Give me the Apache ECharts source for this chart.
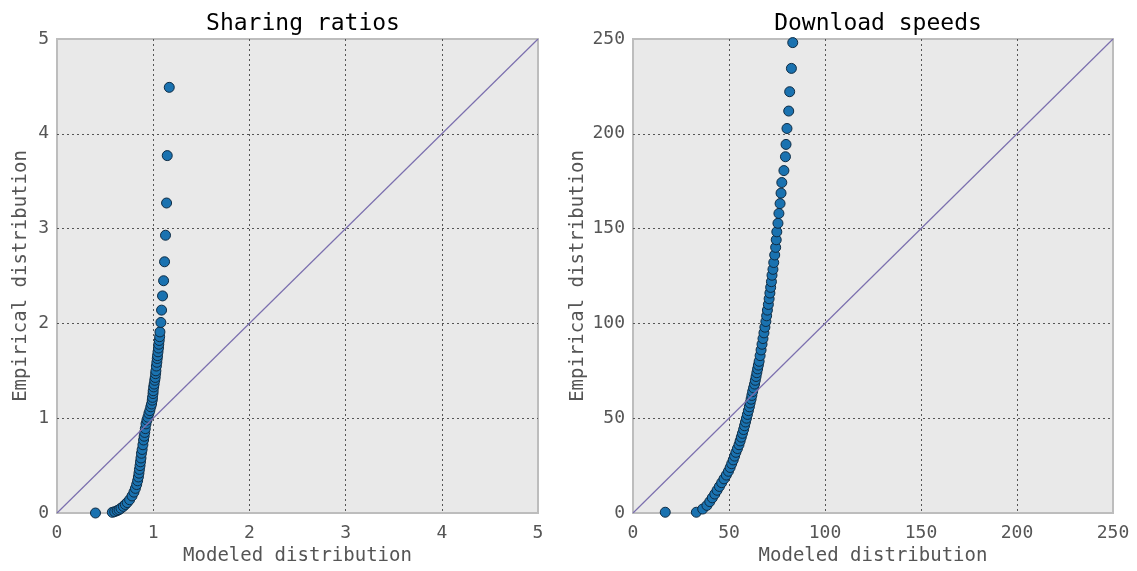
<!DOCTYPE html>
<html>
<head>
<meta charset="utf-8">
<script src="https://cdn.jsdelivr.net/npm/echarts@6/dist/echarts.min.js"></script>
<style>
  html, body { margin: 0; padding: 0; background: #fff; }
  #chart { width: 1137px; height: 571px; }
</style>
</head>
<body>
<div id="chart"></div>
<script>
// ======================================数据======================================
// 左图: Sharing ratios (modeled, empirical)
var sharingModeled = [0.40, 0.575, 0.60, 0.625, 0.645, 0.665, 0.69, 0.71, 0.73, 0.755, 0.78, 0.80, 0.815, 0.828,
    0.838, 0.846, 0.852, 0.857, 0.863, 0.868, 0.873, 0.878, 0.885, 0.893, 0.900, 0.906, 0.912, 0.918, 0.925,
    0.935, 0.945, 0.955, 0.965, 0.975, 0.983, 0.99, 0.993, 0.998, 1.0, 1.005, 1.01, 1.016, 1.021, 1.025, 1.028,
    1.033, 1.038, 1.042, 1.045, 1.05, 1.055, 1.058, 1.0625, 1.067, 1.07, 1.08, 1.087, 1.097, 1.108, 1.118,
    1.128, 1.139, 1.146, 1.167];
var sharingEmpirical = [0.0, 0.007, 0.014, 0.025, 0.035, 0.05, 0.07, 0.09, 0.11, 0.14, 0.18, 0.22, 0.26, 0.30,
    0.34, 0.38, 0.42, 0.46, 0.50, 0.54, 0.58, 0.63, 0.67, 0.72, 0.77, 0.81, 0.85, 0.89, 0.94,
    0.98, 1.01, 1.05, 1.08, 1.12, 1.15, 1.19, 1.22, 1.26, 1.29, 1.33, 1.36, 1.40, 1.43, 1.47, 1.50,
    1.55, 1.59, 1.63, 1.66, 1.70, 1.74, 1.78, 1.82, 1.86, 1.91, 2.01, 2.14, 2.29, 2.45, 2.65,
    2.93, 3.27, 3.77, 4.49];

// 右图: Download speeds (modeled, empirical)
var speedModeled = [16.8, 33.0, 36.3, 38.5, 40.0, 41.3, 42.6, 43.8, 45.0, 46.2, 47.4, 48.6, 49.7, 50.6, 51.4,
    52.2, 52.9, 53.6, 54.4, 55.2, 55.8, 56.4, 57.0, 57.6, 58.1, 58.6, 59.1, 59.6, 60.1, 60.6, 61.0, 61.5,
    61.9, 62.3, 62.8, 63.3, 63.7, 64.1, 64.5, 64.9, 65.3, 65.7, 66.2, 66.7, 67.2, 67.7, 68.2, 68.7, 69.2,
    69.6, 70.0, 70.5, 70.9, 71.3, 71.7, 72.1, 72.4, 72.9, 73.3, 73.8, 74.3, 74.6, 74.9, 75.5, 76.0, 76.6,
    77.1, 77.5, 78.6, 79.4, 79.7, 80.2, 81.1, 81.6, 82.5, 83.2];
var speedEmpirical = [0.4, 0.4, 2.1, 4, 6, 8, 10, 12, 14, 16, 18, 20, 22, 24, 26,
    28, 30, 32, 34, 36, 38, 40, 42, 44, 46, 48, 50, 52, 54, 56, 58, 60,
    62, 64, 66, 68, 70, 72, 74, 76, 78, 80, 83, 86, 89, 92, 95, 98, 101,
    104, 107, 110, 113, 116, 119, 122, 125.4, 128.5, 132.1, 136.1, 140.1, 144.1, 148.3, 152.8, 158, 163.2,
    168.7, 174.3, 180.6, 187.9, 194.4, 202.8, 212, 222.2, 234.5, 248.1];

// 参考线 y = x
var sharingDiagonal = [[0, 0], [5, 5]];
var speedDiagonal = [[0, 0], [250, 250]];

var titles = ['Sharing ratios', 'Download speeds'];
var xName = 'Modeled distribution';
var yName = 'Empirical distribution';

function zip(xs, ys) {
    var out = [];
    for (var i = 0; i < xs.length; i++) {
        out.push([xs[i], ys[i]]);
    }
    return out;
}

// ======================================样式======================================
var mono = 'DejaVu Sans Mono';
var gridLine = {
    show: true,
    showMinLine: false,
    showMaxLine: false,
    lineStyle: { color: '#555', width: 1, type: [2, 3] }
};

function makeAxis(idx, max, interval, isX, gap) {
    return {
        type: 'value',
        gridIndex: idx,
        min: 0,
        max: max,
        interval: interval,
        name: isX ? xName : yName,
        nameLocation: 'middle',
        nameGap: gap,
        nameTextStyle: { fontFamily: mono, fontSize: 19, color: '#555' },
        axisLine: { show: false },
        axisTick: { show: false },
        axisLabel: { fontFamily: mono, fontSize: 18, color: '#555', margin: isX ? 11 : 8 },
        splitLine: gridLine
    };
}

var pointStyle = {
    color: '#1a72b0',
    borderColor: '#0f2c44',
    borderWidth: 1,
    opacity: 1
};

var option = {
    animation: false,
    backgroundColor: '#fff',
    title: [{
        text: titles[0],
        left: 298,
        top: 8,
        textAlign: 'center',
        textStyle: { fontFamily: mono, fontSize: 23, fontWeight: 'normal', color: '#000' }
    }, {
        text: titles[1],
        left: 873,
        top: 8,
        textAlign: 'center',
        textStyle: { fontFamily: mono, fontSize: 23, fontWeight: 'normal', color: '#000' }
    }],
    grid: [{
        left: 57, top: 39, width: 481, height: 480,
        show: true, backgroundColor: '#e9e9e9', borderColor: '#bdbdbd', borderWidth: 2
    }, {
        left: 633, top: 39, width: 480, height: 480,
        show: true, backgroundColor: '#e9e9e9', borderColor: '#bdbdbd', borderWidth: 2
    }],
    xAxis: [
        makeAxis(0, 5, 1, true, 34),
        makeAxis(1, 250, 50, true, 34)
    ],
    yAxis: [
        makeAxis(0, 5, 1, false, 26),
        makeAxis(1, 250, 50, false, 45)
    ],
    series: [{
        type: 'scatter',
        xAxisIndex: 0,
        yAxisIndex: 0,
        symbolSize: 10,
        itemStyle: pointStyle,
        data: zip(sharingModeled, sharingEmpirical),
        z: 2
    }, {
        type: 'line',
        xAxisIndex: 0,
        yAxisIndex: 0,
        showSymbol: false,
        lineStyle: { color: '#7b6fae', width: 1.2 },
        data: sharingDiagonal,
        z: 3
    }, {
        type: 'scatter',
        xAxisIndex: 1,
        yAxisIndex: 1,
        symbolSize: 10,
        itemStyle: pointStyle,
        data: zip(speedModeled, speedEmpirical),
        z: 2
    }, {
        type: 'line',
        xAxisIndex: 1,
        yAxisIndex: 1,
        showSymbol: false,
        lineStyle: { color: '#7b6fae', width: 1.2 },
        data: speedDiagonal,
        z: 3
    }]
};

echarts.init(document.getElementById('chart')).setOption(option);
</script>
</body>
</html>
